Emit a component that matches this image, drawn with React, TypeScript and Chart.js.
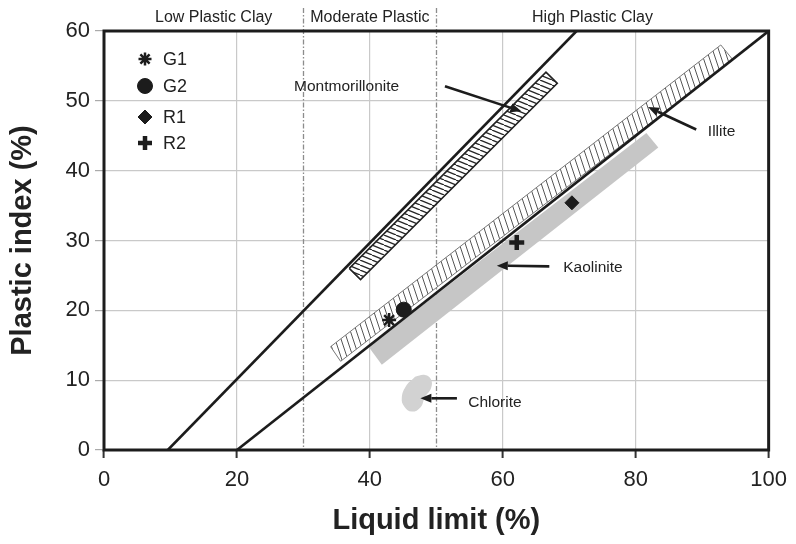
import React, { useEffect, useRef } from "react";
import { Chart, registerables } from "chart.js";
import { drawPoint } from "chart.js/helpers";

Chart.register(...registerables);

const FONT = "'Liberation Sans', Arial, Helvetica, sans-serif";

// ---- axis ranges / ticks ----
const xRange = [0, 100];
const yRange = [0, 60];
const xStep = 20;
const yStep = 10;

// ---- plasticity zones (liquid limit %) ----
const zoneBounds = [30, 50];
const zoneLabels = ["Low Plastic Clay", "Moderate Plastic", "High Plastic Clay"];
const zoneLabelX = [16.5, 40, 73.5];

// ---- reference lines (LL, PI) ----
const upperLine = [{ x: 9.6, y: 0 }, { x: 71.1, y: 60 }];
const aLine = [{ x: 20, y: 0 }, { x: 100, y: 60 }];

// ---- mineral zones (LL, PI) ----
const montmorillonite = [{ x: 36.9, y: 26.0 }, { x: 66.5, y: 54.1 }, { x: 68.2, y: 52.5 }, { x: 38.6, y: 24.4 }];
const illite = [{ x: 34.1, y: 14.8 }, { x: 92.8, y: 58.0 }, { x: 94.6, y: 55.9 }, { x: 35.6, y: 12.7 }];
const kaolinite = [{ x: 39.8, y: 14.8 }, { x: 81.6, y: 45.4 }, { x: 83.4, y: 43.3 }, { x: 41.8, y: 12.2 }];
const chlorite = [
  { x: 46.8, y: 10.5 }, { x: 48.3, y: 10.75 }, { x: 49.2, y: 10.1 }, { x: 49.2, y: 8.85 },
  { x: 48.3, y: 7.6 }, { x: 47.6, y: 6.1 }, { x: 46.3, y: 5.5 }, { x: 45.2, y: 6.2 },
  { x: 44.8, y: 7.4 }, { x: 45.4, y: 9.1 },
];

// ---- samples ----
const sampleNames = ["G1", "G2", "R1", "R2"];
const sampleLL = [42.9, 45.1, 70.4, 62.1];
const samplePI = [18.6, 20.1, 35.4, 29.7];
const sampleStyles = ["star", "circle", "rectRot", "cross"];

// ---- annotations ----
const annotationLabels = ["Montmorillonite", "Illite", "Kaolinite", "Chlorite"];
const annotationTextPos = [{ x: 36.5, y: 52.0 }, { x: 90.85, y: 45.6 }, { x: 69.1, y: 26.1 }, { x: 54.8, y: 6.7 }];
const arrowFrom = [{ x: 51.3, y: 52.1 }, { x: 89.1, y: 45.9 }, { x: 67.0, y: 26.3 }, { x: 53.1, y: 7.4 }];
const arrowTo = [{ x: 62.8, y: 48.5 }, { x: 81.85, y: 49.1 }, { x: 59.1, y: 26.4 }, { x: 47.6, y: 7.4 }];

const INK = "#1c1c1c";

function hatch(w: number, h: number, color: string, lw: number) {
  const c = document.createElement("canvas");
  c.width = w;
  c.height = h;
  const g = c.getContext("2d")!;
  g.fillStyle = "#fff";
  g.fillRect(0, 0, w, h);
  g.strokeStyle = color;
  g.lineWidth = lw;
  for (const dx of [-w, 0, w]) {
    g.beginPath();
    g.moveTo(dx, 0);
    g.lineTo(dx + w, h);
    g.stroke();
  }
  return g.createPattern(c, "repeat")!;
}

const closed = (pts: { x: number; y: number }[]) => [...pts, pts[0]];

function arrow(ctx: CanvasRenderingContext2D, x1: number, y1: number, x2: number, y2: number) {
  const ang = Math.atan2(y2 - y1, x2 - x1);
  const L = 11, W = 4.5;
  const bx = x2 - Math.cos(ang) * L, by = y2 - Math.sin(ang) * L;
  ctx.beginPath();
  ctx.moveTo(x1, y1);
  ctx.lineTo(bx, by);
  ctx.stroke();
  ctx.beginPath();
  ctx.moveTo(x2, y2);
  ctx.lineTo(bx + Math.sin(ang) * W, by - Math.cos(ang) * W);
  ctx.lineTo(bx - Math.sin(ang) * W, by + Math.cos(ang) * W);
  ctx.closePath();
  ctx.fill();
}

const overlay = {
  id: "overlay",
  beforeDatasetsDraw(chart: any) {
    const { ctx, chartArea } = chart;
    const x = chart.scales.x;
    ctx.save();
    ctx.strokeStyle = "#8c8c8c";
    ctx.lineWidth = 1.3;
    ctx.setLineDash([5, 2, 1.5, 2]);
    zoneBounds.forEach((v) => {
      const px = Math.round(x.getPixelForValue(v)) + 0.5;
      ctx.beginPath();
      ctx.moveTo(px, 8);
      ctx.lineTo(px, chartArea.bottom);
      ctx.stroke();
    });
    ctx.restore();
  },
  afterDatasetsDraw(chart: any) {
    const { ctx, chartArea } = chart;
    const x = chart.scales.x;
    const y = chart.scales.y;
    ctx.save();
    // frame
    ctx.strokeStyle = INK;
    ctx.lineWidth = 3;
    ctx.strokeRect(chartArea.left, chartArea.top, chartArea.right - chartArea.left, chartArea.bottom - chartArea.top);

    // zone labels
    ctx.fillStyle = "#222";
    ctx.font = `16px ${FONT}`;
    ctx.textAlign = "center";
    ctx.textBaseline = "middle";
    zoneLabels.forEach((t, i) => ctx.fillText(t, x.getPixelForValue(zoneLabelX[i]), 17.5));

    // annotations
    ctx.font = `15.5px ${FONT}`;
    annotationLabels.forEach((t, i) => {
      ctx.textAlign = i === 0 ? "center" : "left";
      ctx.fillText(t, x.getPixelForValue(annotationTextPos[i].x), y.getPixelForValue(annotationTextPos[i].y));
    });
    ctx.strokeStyle = INK;
    ctx.fillStyle = INK;
    ctx.lineWidth = 2.6;
    arrowFrom.forEach((f, i) => {
      arrow(ctx, x.getPixelForValue(f.x), y.getPixelForValue(f.y), x.getPixelForValue(arrowTo[i].x), y.getPixelForValue(arrowTo[i].y));
    });

    // legend
    const legendY = [59, 86, 117, 143];
    const radii = [6.5, 7.5, 7, 7];
    const widths = [2.5, 1, 1, 4.5];
    sampleNames.forEach((n, i) => {
      ctx.fillStyle = INK;
      ctx.strokeStyle = INK;
      ctx.lineWidth = widths[i];
      drawPoint(ctx, { pointStyle: sampleStyles[i], radius: radii[i], rotation: 0, borderWidth: widths[i] } as any, 145, legendY[i]);
      ctx.fillStyle = "#222";
      ctx.font = `18px ${FONT}`;
      ctx.textAlign = "left";
      ctx.textBaseline = "middle";
      ctx.fillText(n, 163, legendY[i] + 1);
    });
    ctx.restore();
  },
};

export default function App() {
  const ref = useRef<HTMLCanvasElement>(null);
  useEffect(() => {
    const monoPat = hatch(12, 5, "#262626", 1.3);
    const illPat = hatch(6, 18, "#555", 1);

    const samples = sampleNames.map((n, i) => ({
      label: n,
      data: [{ x: sampleLL[i], y: samplePI[i] }],
      showLine: false,
      pointStyle: sampleStyles[i],
      pointRadius: [7, 7.5, 7, 7.5][i],
      pointBorderWidth: [2.5, 1, 1, 4.5][i],
      backgroundColor: INK,
      borderColor: INK,
      order: 0,
    }));

    const lineDs = (pts: any[]) => ({
      data: pts,
      borderColor: INK,
      borderWidth: 2.6,
      pointRadius: 0,
      fill: false,
      order: 1,
    });

    const polyDs = (pts: any[], bg: any, border: string, bw: number, order: number, tension = 0) => ({
      data: closed(pts),
      backgroundColor: bg,
      borderColor: border,
      borderWidth: bw,
      pointRadius: 0,
      fill: "shape",
      tension,
      order,
    });

    const chart = new Chart(ref.current!, {
      type: "line",
      data: {
        datasets: [
          ...samples,
          lineDs(upperLine),
          lineDs(aLine),
          polyDs(montmorillonite, monoPat, "#222", 1.6, 2),
          polyDs(illite, illPat, "#777", 1, 3),
          polyDs(kaolinite, "#c6c6c6", "#c6c6c6", 0, 3),
          polyDs(chlorite, "#d2d2d2", "#d2d2d2", 0, 3, 0.45),
        ] as any,
      },
      options: {
        animation: false,
        responsive: false,
        maintainAspectRatio: false,
        devicePixelRatio: 1,
        events: [],
        layout: { padding: { top: 31, right: 25, left: 0, bottom: 0 } },
        plugins: { legend: { display: false }, tooltip: { enabled: false } },
        scales: {
          x: {
            type: "linear",
            min: xRange[0],
            max: xRange[1],
            ticks: { stepSize: xStep, color: "#222", font: { family: FONT, size: 22 }, padding: 9, maxRotation: 0 },
            grid: { color: "#c9c9c9", lineWidth: 1.2, tickLength: 8, tickColor: "#333", tickWidth: 2 },
            border: { display: false },
            title: { display: true, text: "Liquid limit (%)", color: "#222", font: { family: FONT, size: 29, weight: "bold" }, padding: { top: 0, bottom: 6 } },
            afterFit: (s: any) => { s.height = 94; },
          },
          y: {
            type: "linear",
            min: yRange[0],
            max: yRange[1],
            ticks: { stepSize: yStep, color: "#222", font: { family: FONT, size: 22 }, padding: 5 },
            grid: { color: "#c9c9c9", lineWidth: 1.2, tickLength: 9, tickColor: "#aaa" },
            border: { display: false },
            title: { display: true, text: "Plastic index (%)", color: "#222", font: { family: FONT, size: 29, weight: "bold" }, padding: { top: 6, bottom: 0 } },
            afterFit: (s: any) => { s.width = 104; },
          },
        },
      } as any,
      plugins: [overlay],
    });
    return () => chart.destroy();
  }, []);
  return (
    <div style={{ position: "fixed", left: 0, top: 0, width: 796, height: 544, background: "#fff" }}>
      <canvas ref={ref} width={796} height={544} style={{ width: 796, height: 544, display: "block" }} />
    </div>
  );
}
